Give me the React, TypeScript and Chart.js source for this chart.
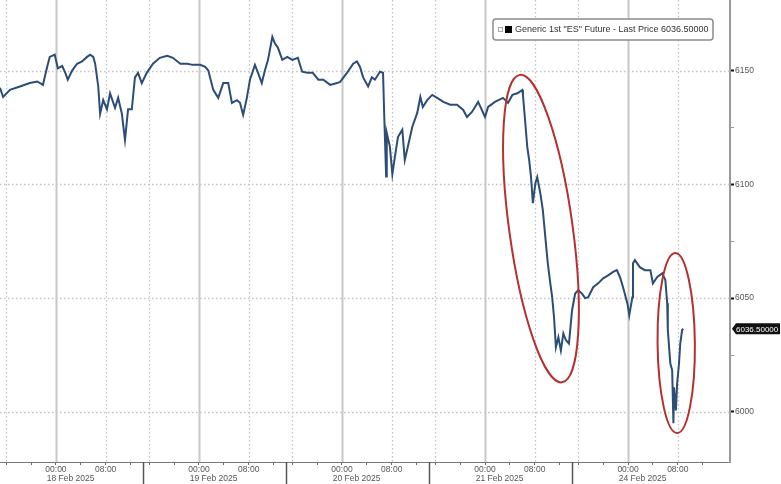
import { useEffect, useRef } from 'react';
import { Chart, registerables } from 'chart.js';

Chart.register(...registerables);

// ---- data (x = trading hours since the 17 Feb 15:00 session open) ----
const SESSION_HOURS = 23;
const sessionDates = ['18 Feb 2025', '19 Feb 2025', '20 Feb 2025', '21 Feb 2025', '24 Feb 2025'];
const tickOffsets = [1, 5, 9, 13, 17, 21];
const tickClock = ['16:00', '20:00', '00:00', '04:00', '08:00', '12:00'];
const labelledClock = ['00:00', '08:00'];
const solidClock = ['00:00'];
const dottedClock = ['16:00', '08:00'];
const dateLabelOffset = 11.35;

const yTicks = [6000, 6025, 6050, 6075, 6100, 6125, 6150];
const yLabelled = [6000, 6050, 6100, 6150];
const yMin = 5978;
const yMax = 6181;
const xMin = 0;
const xMax = 117.4;

const seriesName = 'Generic 1st "ES" Future - Last Price';
const lastPrice = 6036.5;

const hours = [
  0, 0.5, 1.6, 3.2, 4.8, 6.0, 6.9, 7.6, 8.0, 8.8, 9.3, 10.0, 10.5, 10.9, 11.6, 12.4, 13.2, 14.0, 14.5, 15.0,
  15.3, 15.8, 16.1, 16.6, 17.2, 17.7, 18.5, 19.0, 19.6, 20.1, 20.6, 21.2, 21.7, 22.2, 22.8, 23.6, 24.6, 25.7,
  26.9, 27.8, 29.0, 30.1, 31.0, 32.2, 33.0, 33.5, 34.3, 35.1, 35.9, 36.7, 37.3, 38.1,
  38.6, 39.1, 39.7, 40.2, 41.0, 41.5, 42.1, 42.6, 43.1, 43.8, 44.2, 44.7, 45.4, 46.2, 47.0, 47.9, 48.6, 49.4,
  50.3, 51.2, 52.0, 53.1, 54.2, 54.7, 55.8, 56.8, 57.4, 57.9, 58.4, 59.2, 59.8, 60.3, 61.1, 61.6, 61.8, 62.1,
  62.2, 62.7, 63.1, 63.5, 64.0, 64.7, 65.1, 65.6, 66.3, 67.1, 67.6, 68.0, 68.7, 69.5, 70.3, 71.3, 72.4, 73.5,
  74.5, 75.1, 75.9, 76.9,
  78.0, 78.5, 79.6, 80.9, 81.7, 82.4, 83.2, 84.0, 84.1, 84.4, 84.8, 85.1, 85.4, 85.7, 86.1, 86.4, 86.9, 87.3,
  87.7, 88.1, 88.5, 88.8, 89.1, 89.4, 89.8, 90.2, 90.6, 91.0, 91.5, 92.0, 92.5, 93.0, 93.6, 94.1, 94.6, 95.4,
  96.2, 97.0, 97.8, 98.6, 99.2, 99.7, 100.2, 100.9, 101.2, 101.7, 101.8, 102.1, 102.9, 103.7, 104.6, 105.0,
  105.7, 106.5, 107.0, 107.3, 107.4, 107.8, 108.1, 108.3, 108.4, 108.7, 108.9, 109.2, 109.4, 109.7, 109.9,
];

const prices = [
  6142.4, 6138.4, 6141.5, 6143, 6144.5, 6145.2, 6143.7, 6151.8, 6156, 6157, 6151, 6152, 6149, 6146, 6150, 6153,
  6154, 6156, 6157, 6156, 6153, 6143, 6131, 6137, 6133, 6140, 6133.6, 6138, 6131, 6119.5, 6133, 6133, 6147, 6149,
  6144.5, 6149, 6153, 6155.6, 6156.5, 6155.6, 6153, 6153, 6152.5, 6152.5, 6151.6, 6150, 6141.5, 6138, 6144.5,
  6144.5, 6135.8, 6137,
  6135.8, 6130.5, 6138, 6146, 6152.5, 6149, 6144.5, 6150, 6154.7, 6164.8, 6162, 6160, 6154.7, 6156, 6154.7,
  6155.6, 6149.5, 6149, 6149, 6146, 6146, 6143.7, 6144.5, 6145, 6149, 6153, 6154, 6151.6, 6147, 6143, 6147,
  6146, 6149.5, 6149, 6129.6, 6103.5, 6122.6, 6116.6, 6104.5, 6112, 6120.8, 6124, 6110.7, 6116.6, 6125.2,
  6131.4, 6138.4, 6134, 6137, 6139.3, 6138, 6136.2, 6135, 6135, 6132.7, 6129.6, 6131.8, 6136.2,
  6129.6, 6134, 6136.2, 6138, 6135.8, 6139.3, 6140, 6141.5, 6139.3, 6129.6, 6116.4, 6110.7, 6103.2, 6091.7,
  6100.5, 6103.2, 6096, 6088.7, 6076.8, 6065.3, 6056.5, 6050.4, 6041.6, 6028.4, 6032.8, 6027, 6034.5, 6031.6,
  6030, 6044.7, 6052, 6053.5, 6052, 6050, 6050.4, 6054.8, 6056.5, 6058.7, 6060, 6061.5, 6062.3, 6059.3, 6054.8,
  6047.7, 6042.5, 6050.4, 6065.3, 6066.7, 6063.6, 6062.3, 6062.3, 6056.5, 6059.3, 6060.9, 6058, 6047.7, 6036,
  6021.4, 6018.3, 5995, 6010.8, 6000.7, 6012.5, 6021.4, 6030, 6036, 6036.5,
];

// red highlight ellipses (annotation), in data units
const ellipseTopHours = [83.6, 108.6];
const ellipseTopPrices = [6148.1, 6069.8];
const ellipseBottomHours = [90.4, 108.9];
const ellipseBottomPrices = [6013.0, 5990.7];
const ellipseHalfWidthHours = [5.1, 3.0];

const FONT = '"Liberation Sans", Arial, sans-serif';

export default function App() {
  const ref = useRef<HTMLCanvasElement>(null);

  useEffect(() => {
    const canvas = ref.current!;
    const xTicks: { value: number; clock: string }[] = [];
    sessionDates.forEach((_, s) =>
      tickOffsets.forEach((off, j) => {
        const v = s * SESSION_HOURS + off;
        if (v <= xMax) xTicks.push({ value: v, clock: tickClock[j] });
      })
    );
    const clockAt = new Map(xTicks.map((t) => [t.value, t.clock]));

    const decor = {
      id: 'decor',
      beforeDatasetsDraw(chart: any) {
        const { ctx, chartArea: a, scales } = chart;
        const x = scales.x;
        const y = scales.y;
        ctx.save();
        ctx.beginPath();
        ctx.rect(a.left, a.top, a.right - a.left, a.bottom - a.top);
        ctx.clip();
        ctx.strokeStyle = '#c4c4c4';
        ctx.lineWidth = 1.3;
        ctx.setLineDash([1.5, 2.5]);
        yLabelled.forEach((v) => {
          const py = Math.round(y.getPixelForValue(v)) + 0.5;
          ctx.beginPath();
          ctx.moveTo(a.left, py);
          ctx.lineTo(a.right, py);
          ctx.stroke();
        });
        xTicks.forEach((t) => {
          const px = Math.round(x.getPixelForValue(t.value)) + 0.5;
          if (dottedClock.includes(t.clock)) {
            ctx.setLineDash([1.5, 2.5]);
            ctx.strokeStyle = '#c4c4c4';
            ctx.lineWidth = 1.3;
          } else if (solidClock.includes(t.clock)) {
            ctx.setLineDash([]);
            ctx.strokeStyle = '#c8c8c8';
            ctx.lineWidth = 2;
          } else return;
          ctx.beginPath();
          ctx.moveTo(px, a.top);
          ctx.lineTo(px, a.bottom);
          ctx.stroke();
        });
        ctx.restore();
      },
      afterDatasetsDraw(chart: any) {
        const { ctx, scales } = chart;
        const x = scales.x;
        const y = scales.y;
        const pxPerHour = Math.abs(x.getPixelForValue(1) - x.getPixelForValue(0));
        ctx.save();
        ctx.strokeStyle = '#b5302f';
        ctx.lineWidth = 2;
        ellipseTopHours.forEach((_, i) => {
          const tx = x.getPixelForValue(ellipseTopHours[i]);
          const ty = y.getPixelForValue(ellipseTopPrices[i]);
          const bx = x.getPixelForValue(ellipseBottomHours[i]);
          const by = y.getPixelForValue(ellipseBottomPrices[i]);
          const dx = bx - tx;
          const dy = by - ty;
          const len = Math.hypot(dx, dy);
          ctx.beginPath();
          ctx.ellipse((tx + bx) / 2, (ty + by) / 2, ellipseHalfWidthHours[i] * pxPerHour, len / 2, Math.atan2(-dx, dy), 0, Math.PI * 2);
          ctx.stroke();
        });
        ctx.restore();
      },
      afterDraw(chart: any) {
        const { ctx, chartArea: a, scales, width, height } = chart;
        const x = scales.x;
        const y = scales.y;
        ctx.save();
        // session separators under the axis
        ctx.strokeStyle = '#555';
        ctx.lineWidth = 1.5;
        for (let s = 1; s < sessionDates.length; s++) {
          const px = Math.round(x.getPixelForValue(s * SESSION_HOURS)) + 0.5;
          ctx.beginPath();
          ctx.moveTo(px, a.bottom);
          ctx.lineTo(px, height);
          ctx.stroke();
        }
        // date labels
        ctx.fillStyle = '#555';
        ctx.font = `8.5px ${FONT}`;
        ctx.textAlign = 'center';
        ctx.textBaseline = 'middle';
        sessionDates.forEach((d, s) => {
          ctx.fillText(d, x.getPixelForValue(s * SESSION_HOURS + dateLabelOffset), a.bottom + 17);
        });
        // last price tag
        const py = y.getPixelForValue(lastPrice);
        const left = a.right + 2;
        const h = 11;
        ctx.fillStyle = '#111';
        ctx.beginPath();
        ctx.moveTo(left, py);
        ctx.lineTo(left + 4, py - h / 2);
        ctx.lineTo(width - 1, py - h / 2);
        ctx.lineTo(width - 1, py + h / 2);
        ctx.lineTo(left + 4, py + h / 2);
        ctx.closePath();
        ctx.fill();
        ctx.fillStyle = '#fff';
        ctx.font = `8px ${FONT}`;
        ctx.textAlign = 'left';
        ctx.fillText(lastPrice.toFixed(5), left + 4, py + 0.5);
        // legend box
        const lx = 493, ly = 19, lw = 220, lh = 21;
        ctx.fillStyle = '#fff';
        ctx.strokeStyle = '#8c8c8c';
        ctx.lineWidth = 1.5;
        ctx.beginPath();
        ctx.roundRect(lx, ly, lw, lh, 3);
        ctx.fill();
        ctx.stroke();
        ctx.strokeStyle = '#aaa';
        ctx.lineWidth = 1;
        ctx.strokeRect(498.5, 27.5, 4, 4);
        ctx.fillStyle = '#000';
        ctx.fillRect(505, 26, 7, 7);
        let fs = 9.5;
        const label = `${seriesName} ${lastPrice.toFixed(5)}`;
        ctx.font = `${fs}px ${FONT}`;
        while (ctx.measureText(label).width > 194 && fs > 6) {
          fs -= 0.25;
          ctx.font = `${fs}px ${FONT}`;
        }
        ctx.fillStyle = '#333';
        ctx.fillText(label, 515, ly + lh / 2 + 0.5);
        ctx.restore();
      },
    };

    const chart = new Chart(canvas, {
      type: 'line',
      data: {
        datasets: [
          {
            label: seriesName,
            data: hours.map((h, i) => ({ x: h, y: prices[i] })),
            borderColor: '#2b4d76',
            borderWidth: 2,
            pointRadius: 0,
            tension: 0,
            fill: false,
          },
        ],
      },
      options: {
        animation: false,
        responsive: false,
        events: [],
        layout: { padding: 0 },
        plugins: { legend: { display: false }, tooltip: { enabled: false } },
        scales: {
          x: {
            type: 'linear',
            position: 'bottom',
            min: xMin,
            max: xMax,
            afterBuildTicks: (s: any) => {
              s.ticks = xTicks.map((t) => ({ value: t.value }));
            },
            afterFit: (s: any) => {
              s.height = 22;
              s.paddingLeft = 0;
              s.paddingRight = 0;
            },
            ticks: {
              autoSkip: false,
              maxRotation: 0,
              minRotation: 0,
              padding: 0,
              color: '#555',
              font: { family: FONT, size: 8.5 },
              callback: (v: any) => {
                const c = clockAt.get(v);
                return c && labelledClock.includes(c) ? c : '';
              },
            },
            grid: { drawOnChartArea: false, drawTicks: true, tickLength: 3, tickColor: '#666', tickWidth: 1 },
            border: { display: true, color: '#777', width: 1 },
          },
          y: {
            type: 'linear',
            position: 'right',
            min: yMin,
            max: yMax,
            afterBuildTicks: (s: any) => {
              s.ticks = yTicks.map((v) => ({ value: v }));
            },
            afterFit: (s: any) => {
              s.width = 51;
              s.paddingTop = 0;
              s.paddingBottom = 0;
            },
            ticks: {
              padding: 1,
              color: '#555',
              font: { family: FONT, size: 8.5 },
              callback: (v: any) => (yLabelled.includes(v) ? String(v) : ''),
            },
            grid: {
              drawOnChartArea: false,
              tickLength: 4,
              tickColor: (c: any) => (c.tick && yLabelled.includes(c.tick.value) ? '#111' : '#999'),
              tickWidth: (c: any) => (c.tick && yLabelled.includes(c.tick.value) ? 2 : 1),
            },
            border: { display: true, color: '#9a9a9a', width: 2 },
          },
        },
      },
      plugins: [decor],
    } as any);

    return () => chart.destroy();
  }, []);

  return (
    <div style={{ position: 'fixed', left: 0, top: 0, width: 781, height: 484, background: '#fff' }}>
      <canvas ref={ref} width={781} height={484} style={{ display: 'block', width: 781, height: 484 }} />
    </div>
  );
}
